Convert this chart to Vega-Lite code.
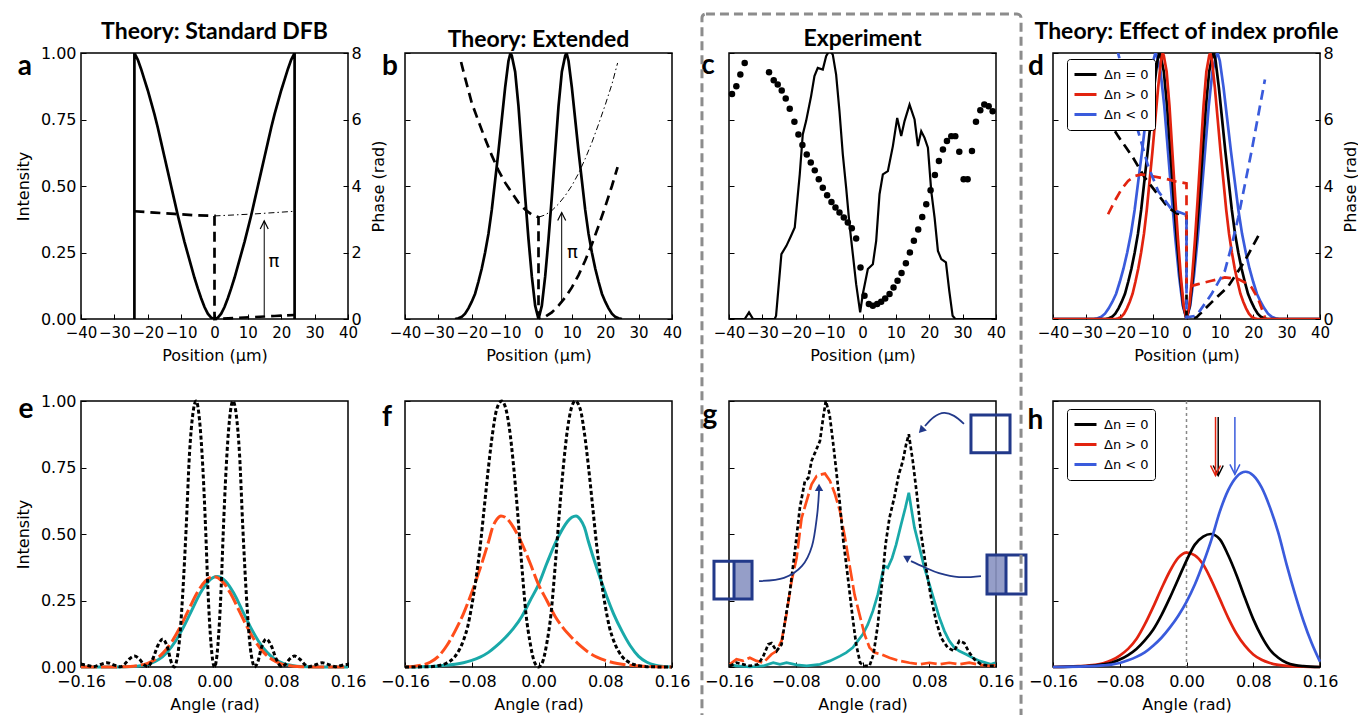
{
"$schema":"https://vega.github.io/schema/vega-lite/v6.json",
"background":"white",
"padding":{"left":14,"top":11,"right":0,"bottom":0},
"config":{
 "view":{"stroke":"black","strokeWidth":1.5},
 "font":"DejaVu Sans",
 "axis":{"domain":false,"grid":false,"tickSize":-5,"tickColor":"black","tickWidth":1,"labelFont":"DejaVu Sans","labelFontSize":16,"labelColor":"black","titleFont":"DejaVu Sans","titleFontSize":16,"titleFontWeight":"normal","titleColor":"black","labelOverlap":false,"labelFlush":false,"labelBound":false},
 "axisLeft":{"labelPadding":10,"titlePadding":9},
 "axisRight":{"labelPadding":8,"titlePadding":9,"titleAngle":270,"titleBaseline":"top"},
 "axisBottom":{"labelPadding":11,"titlePadding":7},
 "title":{"font":"Lato","fontSize":23,"fontWeight":"bold","color":"black","frame":"group","anchor":"middle","baseline":"alphabetic","offset":1}
},
"datasets":{
 "a":[
  {"s":"I","x":-24,"y":0},{"s":"I","x":-24,"y":1},{"s":"I","x":-23,"y":0.975},{"s":"I","x":-22,"y":0.94},{"s":"I","x":-21,"y":0.9},{"s":"I","x":-20,"y":0.86},{"s":"I","x":-19,"y":0.815},{"s":"I","x":-18,"y":0.77},{"s":"I","x":-17,"y":0.72},{"s":"I","x":-16,"y":0.665},{"s":"I","x":-15,"y":0.61},{"s":"I","x":-14,"y":0.555},{"s":"I","x":-13,"y":0.5},{"s":"I","x":-12,"y":0.445},{"s":"I","x":-11,"y":0.39},{"s":"I","x":-10,"y":0.34},{"s":"I","x":-9,"y":0.29},{"s":"I","x":-8,"y":0.245},{"s":"I","x":-7,"y":0.2},{"s":"I","x":-6,"y":0.155},{"s":"I","x":-5,"y":0.115},{"s":"I","x":-4,"y":0.078},{"s":"I","x":-3,"y":0.045},{"s":"I","x":-2,"y":0.02},{"s":"I","x":-1,"y":0.005},{"s":"I","x":0,"y":0},{"s":"I","x":1,"y":0.005},{"s":"I","x":2,"y":0.02},{"s":"I","x":3,"y":0.045},{"s":"I","x":4,"y":0.078},{"s":"I","x":5,"y":0.115},{"s":"I","x":6,"y":0.155},{"s":"I","x":7,"y":0.2},{"s":"I","x":8,"y":0.245},{"s":"I","x":9,"y":0.29},{"s":"I","x":10,"y":0.34},{"s":"I","x":11,"y":0.39},{"s":"I","x":12,"y":0.445},{"s":"I","x":13,"y":0.5},{"s":"I","x":14,"y":0.555},{"s":"I","x":15,"y":0.61},{"s":"I","x":16,"y":0.665},{"s":"I","x":17,"y":0.72},{"s":"I","x":18,"y":0.77},{"s":"I","x":19,"y":0.815},{"s":"I","x":20,"y":0.86},{"s":"I","x":21,"y":0.9},{"s":"I","x":22,"y":0.94},{"s":"I","x":23,"y":0.975},{"s":"I","x":24,"y":1},{"s":"I","x":24,"y":0},
  {"s":"P","x":-24,"y":3.24},{"s":"P","x":-18,"y":3.2},{"s":"P","x":-12,"y":3.16},{"s":"P","x":-6,"y":3.12},{"s":"P","x":0,"y":3.1},{"s":"P","x":0,"y":0},{"s":"P","x":6,"y":0.03},{"s":"P","x":12,"y":0.06},{"s":"P","x":18,"y":0.09},{"s":"P","x":24,"y":0.12},
  {"s":"Q","x":0,"y":3.1},{"s":"Q","x":12,"y":3.16},{"s":"Q","x":24,"y":3.24}
 ],
 "b":[
  {"s":"I","x":-25,"y":0},{"s":"I","x":-24,"y":0.003},{"s":"I","x":-23,"y":0.008},{"s":"I","x":-22,"y":0.02},{"s":"I","x":-21,"y":0.04},{"s":"I","x":-20,"y":0.065},{"s":"I","x":-19,"y":0.095},{"s":"I","x":-18,"y":0.14},{"s":"I","x":-17,"y":0.19},{"s":"I","x":-16,"y":0.25},{"s":"I","x":-15,"y":0.32},{"s":"I","x":-14,"y":0.41},{"s":"I","x":-13,"y":0.52},{"s":"I","x":-12,"y":0.63},{"s":"I","x":-11,"y":0.75},{"s":"I","x":-10,"y":0.87},{"s":"I","x":-9,"y":0.97},{"s":"I","x":-8.4,"y":1},{"s":"I","x":-8,"y":0.99},{"s":"I","x":-7,"y":0.93},{"s":"I","x":-6,"y":0.8},{"s":"I","x":-5,"y":0.63},{"s":"I","x":-4,"y":0.46},{"s":"I","x":-3,"y":0.3},{"s":"I","x":-2,"y":0.16},{"s":"I","x":-1,"y":0.05},{"s":"I","x":0,"y":0},{"s":"I","x":1,"y":0.05},{"s":"I","x":2,"y":0.16},{"s":"I","x":3,"y":0.3},{"s":"I","x":4,"y":0.46},{"s":"I","x":5,"y":0.63},{"s":"I","x":6,"y":0.8},{"s":"I","x":7,"y":0.93},{"s":"I","x":8,"y":0.99},{"s":"I","x":8.4,"y":1},{"s":"I","x":9,"y":0.97},{"s":"I","x":10,"y":0.87},{"s":"I","x":11,"y":0.75},{"s":"I","x":12,"y":0.63},{"s":"I","x":13,"y":0.52},{"s":"I","x":14,"y":0.41},{"s":"I","x":15,"y":0.32},{"s":"I","x":16,"y":0.25},{"s":"I","x":17,"y":0.19},{"s":"I","x":18,"y":0.14},{"s":"I","x":19,"y":0.095},{"s":"I","x":20,"y":0.065},{"s":"I","x":21,"y":0.04},{"s":"I","x":22,"y":0.02},{"s":"I","x":23,"y":0.008},{"s":"I","x":24,"y":0.003},{"s":"I","x":25,"y":0},
  {"s":"P","x":-23.2,"y":7.73},{"s":"P","x":-22,"y":7.25},{"s":"P","x":-20,"y":6.5},{"s":"P","x":-18,"y":5.95},{"s":"P","x":-16,"y":5.42},{"s":"P","x":-14,"y":4.92},{"s":"P","x":-12,"y":4.47},{"s":"P","x":-10,"y":4.1},{"s":"P","x":-8,"y":3.8},{"s":"P","x":-6,"y":3.5},{"s":"P","x":-4,"y":3.29},{"s":"P","x":-2,"y":3.14},{"s":"P","x":0,"y":3.06},{"s":"P","x":0,"y":0},{"s":"P","x":2,"y":0.07},{"s":"P","x":4,"y":0.2},{"s":"P","x":6,"y":0.4},{"s":"P","x":8,"y":0.65},{"s":"P","x":10,"y":0.95},{"s":"P","x":12,"y":1.32},{"s":"P","x":14,"y":1.76},{"s":"P","x":16,"y":2.25},{"s":"P","x":18,"y":2.8},{"s":"P","x":20,"y":3.38},{"s":"P","x":22,"y":4.0},{"s":"P","x":23.7,"y":4.57},
  {"s":"Q","x":0,"y":3.06},{"s":"Q","x":2,"y":3.13},{"s":"Q","x":4,"y":3.26},{"s":"Q","x":6,"y":3.46},{"s":"Q","x":8,"y":3.71},{"s":"Q","x":10,"y":4.01},{"s":"Q","x":12,"y":4.38},{"s":"Q","x":14,"y":4.82},{"s":"Q","x":16,"y":5.31},{"s":"Q","x":18,"y":5.86},{"s":"Q","x":20,"y":6.44},{"s":"Q","x":22,"y":7.06},{"s":"Q","x":23.7,"y":7.7}
 ],
 "c_int":[
  {"x":-40,"y":0},{"x":-35.3,"y":0},{"x":-34,"y":0.025},{"x":-32.8,"y":0},{"x":-26.3,"y":0},{"x":-25.9,"y":0.012},{"x":-24.3,"y":0.244},{"x":-22.8,"y":0.275},{"x":-21.5,"y":0.31},{"x":-20.3,"y":0.344},{"x":-18.8,"y":0.544},{"x":-17.9,"y":0.694},{"x":-16.9,"y":0.744},{"x":-15.4,"y":0.838},{"x":-14.4,"y":0.913},{"x":-13.4,"y":0.944},{"x":-11.9,"y":0.938},{"x":-10.9,"y":0.988},{"x":-9.9,"y":1.01},{"x":-8.9,"y":0.994},{"x":-7.9,"y":0.919},{"x":-6.9,"y":0.781},{"x":-5.9,"y":0.619},{"x":-4.9,"y":0.494},{"x":-3.9,"y":0.356},{"x":-2.9,"y":0.244},{"x":-1.9,"y":0.131},{"x":-0.7,"y":0.025},{"x":0.1,"y":0.094},{"x":1.6,"y":0.188},{"x":3.1,"y":0.206},{"x":4.1,"y":0.294},{"x":5.1,"y":0.469},{"x":6.1,"y":0.544},{"x":7.6,"y":0.556},{"x":9.1,"y":0.65},{"x":10.4,"y":0.756},{"x":11.6,"y":0.688},{"x":12.6,"y":0.744},{"x":14.1,"y":0.806},{"x":15.6,"y":0.75},{"x":16.6,"y":0.65},{"x":17.6,"y":0.706},{"x":18.6,"y":0.681},{"x":19.6,"y":0.644},{"x":20.6,"y":0.481},{"x":21.6,"y":0.381},{"x":22.6,"y":0.256},{"x":23.6,"y":0.225},{"x":25,"y":0.213},{"x":26,"y":0.106},{"x":27,"y":0.012},{"x":27.8,"y":0},{"x":40,"y":0}
 ],
 "c_dot":[
  {"x":-39.1,"y":6.77},{"x":-37.8,"y":7.0},{"x":-36.6,"y":7.35},{"x":-35.3,"y":7.7},{"x":-28.0,"y":7.42},{"x":-26.6,"y":7.18},{"x":-25.4,"y":7.05},{"x":-24.2,"y":6.87},{"x":-23.0,"y":6.63},{"x":-21.8,"y":6.32},{"x":-20.4,"y":5.93},{"x":-19.2,"y":5.55},{"x":-18.0,"y":5.23},{"x":-16.7,"y":4.95},{"x":-15.5,"y":4.71},{"x":-14.3,"y":4.47},{"x":-13.1,"y":4.2},{"x":-11.9,"y":3.95},{"x":-10.6,"y":3.72},{"x":-9.3,"y":3.52},{"x":-8.1,"y":3.35},{"x":-6.9,"y":3.2},{"x":-5.6,"y":3.05},{"x":-4.4,"y":2.9},{"x":-3.2,"y":2.73},{"x":-1.9,"y":2.42},{"x":-0.6,"y":1.55},{"x":0.6,"y":0.7},{"x":1.9,"y":0.45},{"x":3.1,"y":0.4},{"x":4.4,"y":0.45},{"x":5.6,"y":0.52},{"x":6.8,"y":0.62},{"x":8.1,"y":0.75},{"x":9.3,"y":0.95},{"x":10.5,"y":1.15},{"x":11.7,"y":1.38},{"x":13.0,"y":1.68},{"x":14.2,"y":2.0},{"x":15.4,"y":2.35},{"x":16.7,"y":2.69},{"x":17.9,"y":3.07},{"x":19.1,"y":3.45},{"x":20.4,"y":3.87},{"x":21.7,"y":4.33},{"x":22.9,"y":4.75},{"x":24.1,"y":5.1},{"x":25.3,"y":5.35},{"x":26.6,"y":5.5},{"x":27.8,"y":5.5},{"x":29.0,"y":5.03},{"x":30.3,"y":4.2},{"x":31.5,"y":4.2},{"x":32.8,"y":5.05},{"x":34.0,"y":5.93},{"x":35.3,"y":6.28},{"x":36.5,"y":6.45},{"x":37.8,"y":6.4},{"x":39.0,"y":6.25}
 ],
 "d":[
  {"s":"I","n":"Δn < 0","x":-40,"y":0},{"s":"I","n":"Δn < 0","x":-27.75,"y":0},{"s":"I","n":"Δn < 0","x":-26.64,"y":0.003},{"s":"I","n":"Δn < 0","x":-25.53,"y":0.008},{"s":"I","n":"Δn < 0","x":-24.42,"y":0.02},{"s":"I","n":"Δn < 0","x":-23.31,"y":0.04},{"s":"I","n":"Δn < 0","x":-22.2,"y":0.065},{"s":"I","n":"Δn < 0","x":-21.09,"y":0.095},{"s":"I","n":"Δn < 0","x":-19.98,"y":0.14},{"s":"I","n":"Δn < 0","x":-18.87,"y":0.19},{"s":"I","n":"Δn < 0","x":-17.76,"y":0.25},{"s":"I","n":"Δn < 0","x":-16.65,"y":0.32},{"s":"I","n":"Δn < 0","x":-15.54,"y":0.41},{"s":"I","n":"Δn < 0","x":-14.43,"y":0.52},{"s":"I","n":"Δn < 0","x":-13.32,"y":0.63},{"s":"I","n":"Δn < 0","x":-12.21,"y":0.75},{"s":"I","n":"Δn < 0","x":-11.1,"y":0.87},{"s":"I","n":"Δn < 0","x":-9.99,"y":0.97},{"s":"I","n":"Δn < 0","x":-9.32,"y":1},{"s":"I","n":"Δn < 0","x":-8.88,"y":0.99},{"s":"I","n":"Δn < 0","x":-7.77,"y":0.93},{"s":"I","n":"Δn < 0","x":-6.66,"y":0.8},{"s":"I","n":"Δn < 0","x":-5.55,"y":0.63},{"s":"I","n":"Δn < 0","x":-4.44,"y":0.46},{"s":"I","n":"Δn < 0","x":-3.33,"y":0.3},{"s":"I","n":"Δn < 0","x":-2.22,"y":0.16},{"s":"I","n":"Δn < 0","x":-1.11,"y":0.05},{"s":"I","n":"Δn < 0","x":0,"y":0},{"s":"I","n":"Δn < 0","x":1.11,"y":0.05},{"s":"I","n":"Δn < 0","x":2.22,"y":0.16},{"s":"I","n":"Δn < 0","x":3.33,"y":0.3},{"s":"I","n":"Δn < 0","x":4.44,"y":0.46},{"s":"I","n":"Δn < 0","x":5.55,"y":0.63},{"s":"I","n":"Δn < 0","x":6.66,"y":0.8},{"s":"I","n":"Δn < 0","x":7.77,"y":0.93},{"s":"I","n":"Δn < 0","x":8.88,"y":0.99},{"s":"I","n":"Δn < 0","x":9.32,"y":1},{"s":"I","n":"Δn < 0","x":9.99,"y":0.97},{"s":"I","n":"Δn < 0","x":11.1,"y":0.87},{"s":"I","n":"Δn < 0","x":12.21,"y":0.75},{"s":"I","n":"Δn < 0","x":13.32,"y":0.63},{"s":"I","n":"Δn < 0","x":14.43,"y":0.52},{"s":"I","n":"Δn < 0","x":15.54,"y":0.41},{"s":"I","n":"Δn < 0","x":16.65,"y":0.32},{"s":"I","n":"Δn < 0","x":17.76,"y":0.25},{"s":"I","n":"Δn < 0","x":18.87,"y":0.19},{"s":"I","n":"Δn < 0","x":19.98,"y":0.14},{"s":"I","n":"Δn < 0","x":21.09,"y":0.095},{"s":"I","n":"Δn < 0","x":22.2,"y":0.065},{"s":"I","n":"Δn < 0","x":23.31,"y":0.04},{"s":"I","n":"Δn < 0","x":24.42,"y":0.02},{"s":"I","n":"Δn < 0","x":25.53,"y":0.008},{"s":"I","n":"Δn < 0","x":26.64,"y":0.003},{"s":"I","n":"Δn < 0","x":27.75,"y":0},{"s":"I","n":"Δn < 0","x":40,"y":0},
  {"s":"I","n":"Δn = 0","x":-40,"y":0},{"s":"I","n":"Δn = 0","x":-24.25,"y":0},{"s":"I","n":"Δn = 0","x":-23.28,"y":0.003},{"s":"I","n":"Δn = 0","x":-22.31,"y":0.008},{"s":"I","n":"Δn = 0","x":-21.34,"y":0.02},{"s":"I","n":"Δn = 0","x":-20.37,"y":0.04},{"s":"I","n":"Δn = 0","x":-19.4,"y":0.065},{"s":"I","n":"Δn = 0","x":-18.43,"y":0.095},{"s":"I","n":"Δn = 0","x":-17.46,"y":0.14},{"s":"I","n":"Δn = 0","x":-16.49,"y":0.19},{"s":"I","n":"Δn = 0","x":-15.52,"y":0.25},{"s":"I","n":"Δn = 0","x":-14.55,"y":0.32},{"s":"I","n":"Δn = 0","x":-13.58,"y":0.41},{"s":"I","n":"Δn = 0","x":-12.61,"y":0.52},{"s":"I","n":"Δn = 0","x":-11.64,"y":0.63},{"s":"I","n":"Δn = 0","x":-10.67,"y":0.75},{"s":"I","n":"Δn = 0","x":-9.7,"y":0.87},{"s":"I","n":"Δn = 0","x":-8.73,"y":0.97},{"s":"I","n":"Δn = 0","x":-8.15,"y":1},{"s":"I","n":"Δn = 0","x":-7.76,"y":0.99},{"s":"I","n":"Δn = 0","x":-6.79,"y":0.93},{"s":"I","n":"Δn = 0","x":-5.82,"y":0.8},{"s":"I","n":"Δn = 0","x":-4.85,"y":0.63},{"s":"I","n":"Δn = 0","x":-3.88,"y":0.46},{"s":"I","n":"Δn = 0","x":-2.91,"y":0.3},{"s":"I","n":"Δn = 0","x":-1.94,"y":0.16},{"s":"I","n":"Δn = 0","x":-0.97,"y":0.05},{"s":"I","n":"Δn = 0","x":0,"y":0},{"s":"I","n":"Δn = 0","x":0.97,"y":0.05},{"s":"I","n":"Δn = 0","x":1.94,"y":0.16},{"s":"I","n":"Δn = 0","x":2.91,"y":0.3},{"s":"I","n":"Δn = 0","x":3.88,"y":0.46},{"s":"I","n":"Δn = 0","x":4.85,"y":0.63},{"s":"I","n":"Δn = 0","x":5.82,"y":0.8},{"s":"I","n":"Δn = 0","x":6.79,"y":0.93},{"s":"I","n":"Δn = 0","x":7.76,"y":0.99},{"s":"I","n":"Δn = 0","x":8.15,"y":1},{"s":"I","n":"Δn = 0","x":8.73,"y":0.97},{"s":"I","n":"Δn = 0","x":9.7,"y":0.87},{"s":"I","n":"Δn = 0","x":10.67,"y":0.75},{"s":"I","n":"Δn = 0","x":11.64,"y":0.63},{"s":"I","n":"Δn = 0","x":12.61,"y":0.52},{"s":"I","n":"Δn = 0","x":13.58,"y":0.41},{"s":"I","n":"Δn = 0","x":14.55,"y":0.32},{"s":"I","n":"Δn = 0","x":15.52,"y":0.25},{"s":"I","n":"Δn = 0","x":16.49,"y":0.19},{"s":"I","n":"Δn = 0","x":17.46,"y":0.14},{"s":"I","n":"Δn = 0","x":18.43,"y":0.095},{"s":"I","n":"Δn = 0","x":19.4,"y":0.065},{"s":"I","n":"Δn = 0","x":20.37,"y":0.04},{"s":"I","n":"Δn = 0","x":21.34,"y":0.02},{"s":"I","n":"Δn = 0","x":22.31,"y":0.008},{"s":"I","n":"Δn = 0","x":23.28,"y":0.003},{"s":"I","n":"Δn = 0","x":24.25,"y":0},{"s":"I","n":"Δn = 0","x":40,"y":0},
  {"s":"I","n":"Δn > 0","x":-40,"y":0},{"s":"I","n":"Δn > 0","x":-21.25,"y":0},{"s":"I","n":"Δn > 0","x":-20.4,"y":0.003},{"s":"I","n":"Δn > 0","x":-19.55,"y":0.008},{"s":"I","n":"Δn > 0","x":-18.7,"y":0.02},{"s":"I","n":"Δn > 0","x":-17.85,"y":0.04},{"s":"I","n":"Δn > 0","x":-17,"y":0.065},{"s":"I","n":"Δn > 0","x":-16.15,"y":0.095},{"s":"I","n":"Δn > 0","x":-15.3,"y":0.14},{"s":"I","n":"Δn > 0","x":-14.45,"y":0.19},{"s":"I","n":"Δn > 0","x":-13.6,"y":0.25},{"s":"I","n":"Δn > 0","x":-12.75,"y":0.32},{"s":"I","n":"Δn > 0","x":-11.9,"y":0.41},{"s":"I","n":"Δn > 0","x":-11.05,"y":0.52},{"s":"I","n":"Δn > 0","x":-10.2,"y":0.63},{"s":"I","n":"Δn > 0","x":-9.35,"y":0.75},{"s":"I","n":"Δn > 0","x":-8.5,"y":0.87},{"s":"I","n":"Δn > 0","x":-7.65,"y":0.97},{"s":"I","n":"Δn > 0","x":-7.14,"y":1},{"s":"I","n":"Δn > 0","x":-6.8,"y":0.99},{"s":"I","n":"Δn > 0","x":-5.95,"y":0.93},{"s":"I","n":"Δn > 0","x":-5.1,"y":0.8},{"s":"I","n":"Δn > 0","x":-4.25,"y":0.63},{"s":"I","n":"Δn > 0","x":-3.4,"y":0.46},{"s":"I","n":"Δn > 0","x":-2.55,"y":0.3},{"s":"I","n":"Δn > 0","x":-1.7,"y":0.16},{"s":"I","n":"Δn > 0","x":-0.85,"y":0.05},{"s":"I","n":"Δn > 0","x":0,"y":0},{"s":"I","n":"Δn > 0","x":0.85,"y":0.05},{"s":"I","n":"Δn > 0","x":1.7,"y":0.16},{"s":"I","n":"Δn > 0","x":2.55,"y":0.3},{"s":"I","n":"Δn > 0","x":3.4,"y":0.46},{"s":"I","n":"Δn > 0","x":4.25,"y":0.63},{"s":"I","n":"Δn > 0","x":5.1,"y":0.8},{"s":"I","n":"Δn > 0","x":5.95,"y":0.93},{"s":"I","n":"Δn > 0","x":6.8,"y":0.99},{"s":"I","n":"Δn > 0","x":7.14,"y":1},{"s":"I","n":"Δn > 0","x":7.65,"y":0.97},{"s":"I","n":"Δn > 0","x":8.5,"y":0.87},{"s":"I","n":"Δn > 0","x":9.35,"y":0.75},{"s":"I","n":"Δn > 0","x":10.2,"y":0.63},{"s":"I","n":"Δn > 0","x":11.05,"y":0.52},{"s":"I","n":"Δn > 0","x":11.9,"y":0.41},{"s":"I","n":"Δn > 0","x":12.75,"y":0.32},{"s":"I","n":"Δn > 0","x":13.6,"y":0.25},{"s":"I","n":"Δn > 0","x":14.45,"y":0.19},{"s":"I","n":"Δn > 0","x":15.3,"y":0.14},{"s":"I","n":"Δn > 0","x":16.15,"y":0.095},{"s":"I","n":"Δn > 0","x":17,"y":0.065},{"s":"I","n":"Δn > 0","x":17.85,"y":0.04},{"s":"I","n":"Δn > 0","x":18.7,"y":0.02},{"s":"I","n":"Δn > 0","x":19.55,"y":0.008},{"s":"I","n":"Δn > 0","x":20.4,"y":0.003},{"s":"I","n":"Δn > 0","x":21.25,"y":0},{"s":"I","n":"Δn > 0","x":40,"y":0},
  {"s":"P","n":"Δn = 0","x":-24,"y":6.05},{"s":"P","n":"Δn = 0","x":-20.5,"y":5.5},{"s":"P","n":"Δn = 0","x":-16,"y":4.85},{"s":"P","n":"Δn = 0","x":-12.5,"y":4.25},{"s":"P","n":"Δn = 0","x":-9,"y":3.8},{"s":"P","n":"Δn = 0","x":-5.5,"y":3.35},{"s":"P","n":"Δn = 0","x":-3,"y":3.18},{"s":"P","n":"Δn = 0","x":0,"y":3.1},{"s":"P","n":"Δn = 0","x":0,"y":0},{"s":"P","n":"Δn = 0","x":3,"y":0.05},{"s":"P","n":"Δn = 0","x":7.5,"y":0.5},{"s":"P","n":"Δn = 0","x":12.5,"y":0.98},{"s":"P","n":"Δn = 0","x":17.5,"y":1.75},{"s":"P","n":"Δn = 0","x":22.3,"y":2.65},
  {"s":"P","n":"Δn > 0","x":-23.5,"y":3.15},{"s":"P","n":"Δn > 0","x":-21.5,"y":3.55},{"s":"P","n":"Δn > 0","x":-19.5,"y":3.9},{"s":"P","n":"Δn > 0","x":-17.5,"y":4.15},{"s":"P","n":"Δn > 0","x":-15.5,"y":4.3},{"s":"P","n":"Δn > 0","x":-13.5,"y":4.35},{"s":"P","n":"Δn > 0","x":-10.5,"y":4.3},{"s":"P","n":"Δn > 0","x":-8,"y":4.25},{"s":"P","n":"Δn > 0","x":-5.5,"y":4.2},{"s":"P","n":"Δn > 0","x":-3,"y":4.13},{"s":"P","n":"Δn > 0","x":0,"y":4.08},{"s":"P","n":"Δn > 0","x":0,"y":0.95},{"s":"P","n":"Δn > 0","x":3.5,"y":1.05},{"s":"P","n":"Δn > 0","x":7.5,"y":1.15},{"s":"P","n":"Δn > 0","x":11.5,"y":1.25},{"s":"P","n":"Δn > 0","x":15.5,"y":1.2},{"s":"P","n":"Δn > 0","x":17.5,"y":1.1},{"s":"P","n":"Δn > 0","x":19.5,"y":0.95},{"s":"P","n":"Δn > 0","x":21.5,"y":0.6},{"s":"P","n":"Δn > 0","x":23.5,"y":0.05},
  {"s":"P","n":"Δn < 0","x":-22,"y":8.6},{"s":"P","n":"Δn < 0","x":-20.5,"y":8.0},{"s":"P","n":"Δn < 0","x":-17.5,"y":6.8},{"s":"P","n":"Δn < 0","x":-14.5,"y":5.65},{"s":"P","n":"Δn < 0","x":-11.5,"y":4.6},{"s":"P","n":"Δn < 0","x":-8.5,"y":3.85},{"s":"P","n":"Δn < 0","x":-4.5,"y":3.3},{"s":"P","n":"Δn < 0","x":-0.5,"y":3.15},{"s":"P","n":"Δn < 0","x":0,"y":3.14},{"s":"P","n":"Δn < 0","x":0,"y":0.05},{"s":"P","n":"Δn < 0","x":3,"y":0.1},{"s":"P","n":"Δn < 0","x":7.5,"y":0.75},{"s":"P","n":"Δn < 0","x":11.5,"y":1.45},{"s":"P","n":"Δn < 0","x":13.5,"y":2.2},{"s":"P","n":"Δn < 0","x":15.5,"y":3.05},{"s":"P","n":"Δn < 0","x":19.5,"y":5.05},{"s":"P","n":"Δn < 0","x":23.5,"y":7.2}
 ],
 "e":[
  {"s":"K","x":-0.16,"y":0.01},{"s":"K","x":-0.152,"y":0.006},{"s":"K","x":-0.145,"y":0.001},{"s":"K","x":-0.138,"y":0.008},{"s":"K","x":-0.129,"y":0.016},{"s":"K","x":-0.12,"y":0.007},{"s":"K","x":-0.113,"y":0.001},{"s":"K","x":-0.108,"y":0.01},{"s":"K","x":-0.102,"y":0.03},{"s":"K","x":-0.096,"y":0.041},{"s":"K","x":-0.09,"y":0.03},{"s":"K","x":-0.085,"y":0.01},{"s":"K","x":-0.08,"y":0.002},{"s":"K","x":-0.074,"y":0.03},{"s":"K","x":-0.068,"y":0.08},{"s":"K","x":-0.062,"y":0.105},{"s":"K","x":-0.056,"y":0.07},{"s":"K","x":-0.052,"y":0.02},{"s":"K","x":-0.048,"y":0},{"s":"K","x":-0.046,"y":0.015},{"s":"K","x":-0.042,"y":0.1},{"s":"K","x":-0.038,"y":0.28},{"s":"K","x":-0.034,"y":0.52},{"s":"K","x":-0.03,"y":0.8},{"s":"K","x":-0.026,"y":0.95},{"s":"K","x":-0.022,"y":1},{"s":"K","x":-0.018,"y":0.93},{"s":"K","x":-0.014,"y":0.75},{"s":"K","x":-0.0104,"y":0.5},{"s":"K","x":-0.008,"y":0.3},{"s":"K","x":-0.004,"y":0.08},{"s":"K","x":0,"y":0},{"s":"K","x":0.004,"y":0.08},{"s":"K","x":0.008,"y":0.3},{"s":"K","x":0.0104,"y":0.5},{"s":"K","x":0.014,"y":0.75},{"s":"K","x":0.018,"y":0.93},{"s":"K","x":0.022,"y":1},{"s":"K","x":0.026,"y":0.95},{"s":"K","x":0.03,"y":0.8},{"s":"K","x":0.034,"y":0.52},{"s":"K","x":0.038,"y":0.28},{"s":"K","x":0.042,"y":0.1},{"s":"K","x":0.046,"y":0.015},{"s":"K","x":0.048,"y":0},{"s":"K","x":0.052,"y":0.02},{"s":"K","x":0.056,"y":0.07},{"s":"K","x":0.062,"y":0.105},{"s":"K","x":0.068,"y":0.08},{"s":"K","x":0.074,"y":0.03},{"s":"K","x":0.08,"y":0.002},{"s":"K","x":0.085,"y":0.01},{"s":"K","x":0.09,"y":0.03},{"s":"K","x":0.096,"y":0.041},{"s":"K","x":0.102,"y":0.03},{"s":"K","x":0.108,"y":0.01},{"s":"K","x":0.113,"y":0.001},{"s":"K","x":0.12,"y":0.007},{"s":"K","x":0.129,"y":0.016},{"s":"K","x":0.138,"y":0.008},{"s":"K","x":0.145,"y":0.001},{"s":"K","x":0.152,"y":0.006},{"s":"K","x":0.16,"y":0.01},
  {"s":"O","x":-0.16,"y":0},{"s":"O","x":-0.121,"y":0.0002},{"s":"O","x":-0.101,"y":0.002},{"s":"O","x":-0.091,"y":0.006},{"s":"O","x":-0.081,"y":0.013},{"s":"O","x":-0.071,"y":0.028},{"s":"O","x":-0.061,"y":0.055},{"s":"O","x":-0.051,"y":0.096},{"s":"O","x":-0.041,"y":0.151},{"s":"O","x":-0.031,"y":0.215},{"s":"O","x":-0.021,"y":0.278},{"s":"O","x":-0.011,"y":0.323},{"s":"O","x":-0.001,"y":0.34},{"s":"O","x":0.009,"y":0.323},{"s":"O","x":0.019,"y":0.278},{"s":"O","x":0.029,"y":0.215},{"s":"O","x":0.039,"y":0.151},{"s":"O","x":0.049,"y":0.096},{"s":"O","x":0.059,"y":0.055},{"s":"O","x":0.069,"y":0.028},{"s":"O","x":0.079,"y":0.013},{"s":"O","x":0.089,"y":0.006},{"s":"O","x":0.099,"y":0.002},{"s":"O","x":0.119,"y":0.0002},{"s":"O","x":0.16,"y":0},
  {"s":"T","x":-0.16,"y":0},{"s":"T","x":-0.117,"y":0.0002},{"s":"T","x":-0.097,"y":0.002},{"s":"T","x":-0.087,"y":0.006},{"s":"T","x":-0.077,"y":0.013},{"s":"T","x":-0.067,"y":0.028},{"s":"T","x":-0.057,"y":0.055},{"s":"T","x":-0.047,"y":0.096},{"s":"T","x":-0.037,"y":0.151},{"s":"T","x":-0.027,"y":0.215},{"s":"T","x":-0.017,"y":0.278},{"s":"T","x":-0.007,"y":0.323},{"s":"T","x":0.003,"y":0.34},{"s":"T","x":0.013,"y":0.323},{"s":"T","x":0.023,"y":0.278},{"s":"T","x":0.033,"y":0.215},{"s":"T","x":0.043,"y":0.151},{"s":"T","x":0.053,"y":0.096},{"s":"T","x":0.063,"y":0.055},{"s":"T","x":0.073,"y":0.028},{"s":"T","x":0.083,"y":0.013},{"s":"T","x":0.093,"y":0.006},{"s":"T","x":0.103,"y":0.002},{"s":"T","x":0.123,"y":0.0002},{"s":"T","x":0.16,"y":0}
 ],
 "f":[
  {"s":"K","x":-0.16,"y":0},{"s":"K","x":-0.13,"y":0.001},{"s":"K","x":-0.12,"y":0.005},{"s":"K","x":-0.11,"y":0.015},{"s":"K","x":-0.1,"y":0.04},{"s":"K","x":-0.09,"y":0.1},{"s":"K","x":-0.085,"y":0.15},{"s":"K","x":-0.08,"y":0.23},{"s":"K","x":-0.075,"y":0.33},{"s":"K","x":-0.07,"y":0.45},{"s":"K","x":-0.065,"y":0.6},{"s":"K","x":-0.06,"y":0.75},{"s":"K","x":-0.055,"y":0.88},{"s":"K","x":-0.05,"y":0.97},{"s":"K","x":-0.044,"y":1},{"s":"K","x":-0.04,"y":0.98},{"s":"K","x":-0.035,"y":0.9},{"s":"K","x":-0.03,"y":0.76},{"s":"K","x":-0.025,"y":0.58},{"s":"K","x":-0.02,"y":0.38},{"s":"K","x":-0.015,"y":0.2},{"s":"K","x":-0.01,"y":0.09},{"s":"K","x":-0.005,"y":0.02},{"s":"K","x":0,"y":0},{"s":"K","x":0.005,"y":0.02},{"s":"K","x":0.01,"y":0.09},{"s":"K","x":0.015,"y":0.2},{"s":"K","x":0.02,"y":0.38},{"s":"K","x":0.025,"y":0.58},{"s":"K","x":0.03,"y":0.76},{"s":"K","x":0.035,"y":0.9},{"s":"K","x":0.04,"y":0.98},{"s":"K","x":0.044,"y":1},{"s":"K","x":0.05,"y":0.97},{"s":"K","x":0.055,"y":0.88},{"s":"K","x":0.06,"y":0.75},{"s":"K","x":0.065,"y":0.6},{"s":"K","x":0.07,"y":0.45},{"s":"K","x":0.075,"y":0.33},{"s":"K","x":0.08,"y":0.23},{"s":"K","x":0.085,"y":0.15},{"s":"K","x":0.09,"y":0.1},{"s":"K","x":0.1,"y":0.04},{"s":"K","x":0.11,"y":0.015},{"s":"K","x":0.12,"y":0.005},{"s":"K","x":0.13,"y":0.001},{"s":"K","x":0.16,"y":0},
  {"s":"O","x":-0.16,"y":0},{"s":"O","x":-0.15,"y":0.002},{"s":"O","x":-0.14,"y":0.007},{"s":"O","x":-0.13,"y":0.018},{"s":"O","x":-0.12,"y":0.04},{"s":"O","x":-0.11,"y":0.08},{"s":"O","x":-0.1,"y":0.135},{"s":"O","x":-0.09,"y":0.2},{"s":"O","x":-0.08,"y":0.28},{"s":"O","x":-0.07,"y":0.37},{"s":"O","x":-0.06,"y":0.47},{"s":"O","x":-0.055,"y":0.525},{"s":"O","x":-0.05,"y":0.555},{"s":"O","x":-0.045,"y":0.568},{"s":"O","x":-0.04,"y":0.563},{"s":"O","x":-0.035,"y":0.548},{"s":"O","x":-0.03,"y":0.525},{"s":"O","x":-0.02,"y":0.465},{"s":"O","x":-0.01,"y":0.39},{"s":"O","x":0,"y":0.31},{"s":"O","x":0.01,"y":0.25},{"s":"O","x":0.02,"y":0.19},{"s":"O","x":0.03,"y":0.145},{"s":"O","x":0.04,"y":0.11},{"s":"O","x":0.05,"y":0.08},{"s":"O","x":0.06,"y":0.055},{"s":"O","x":0.07,"y":0.037},{"s":"O","x":0.08,"y":0.025},{"s":"O","x":0.09,"y":0.016},{"s":"O","x":0.1,"y":0.01},{"s":"O","x":0.12,"y":0.004},{"s":"O","x":0.14,"y":0.001},{"s":"O","x":0.16,"y":0},
  {"s":"T","x":-0.16,"y":0},{"s":"T","x":-0.14,"y":0.001},{"s":"T","x":-0.12,"y":0.004},{"s":"T","x":-0.1,"y":0.01},{"s":"T","x":-0.09,"y":0.016},{"s":"T","x":-0.08,"y":0.025},{"s":"T","x":-0.07,"y":0.037},{"s":"T","x":-0.06,"y":0.055},{"s":"T","x":-0.05,"y":0.08},{"s":"T","x":-0.04,"y":0.11},{"s":"T","x":-0.03,"y":0.145},{"s":"T","x":-0.02,"y":0.19},{"s":"T","x":-0.01,"y":0.25},{"s":"T","x":0,"y":0.31},{"s":"T","x":0.01,"y":0.39},{"s":"T","x":0.02,"y":0.465},{"s":"T","x":0.03,"y":0.525},{"s":"T","x":0.035,"y":0.548},{"s":"T","x":0.04,"y":0.563},{"s":"T","x":0.045,"y":0.568},{"s":"T","x":0.05,"y":0.555},{"s":"T","x":0.055,"y":0.525},{"s":"T","x":0.06,"y":0.47},{"s":"T","x":0.07,"y":0.37},{"s":"T","x":0.08,"y":0.28},{"s":"T","x":0.09,"y":0.2},{"s":"T","x":0.1,"y":0.135},{"s":"T","x":0.11,"y":0.08},{"s":"T","x":0.12,"y":0.04},{"s":"T","x":0.13,"y":0.018},{"s":"T","x":0.14,"y":0.007},{"s":"T","x":0.15,"y":0.002},{"s":"T","x":0.16,"y":0}
 ],
 "g":[
  {"s":"K","x":-0.159,"y":0.004},{"s":"K","x":-0.151,"y":0.016},{"s":"K","x":-0.143,"y":0.01},{"s":"K","x":-0.135,"y":0.004},{"s":"K","x":-0.125,"y":0.01},{"s":"K","x":-0.119,"y":0.04},{"s":"K","x":-0.113,"y":0.085},{"s":"K","x":-0.109,"y":0.09},{"s":"K","x":-0.103,"y":0.06},{"s":"K","x":-0.097,"y":0.085},{"s":"K","x":-0.093,"y":0.17},{"s":"K","x":-0.087,"y":0.285},{"s":"K","x":-0.081,"y":0.436},{"s":"K","x":-0.075,"y":0.6},{"s":"K","x":-0.069,"y":0.7},{"s":"K","x":-0.065,"y":0.71},{"s":"K","x":-0.061,"y":0.775},{"s":"K","x":-0.057,"y":0.805},{"s":"K","x":-0.051,"y":0.85},{"s":"K","x":-0.047,"y":0.94},{"s":"K","x":-0.044,"y":1.0},{"s":"K","x":-0.0395,"y":0.95},{"s":"K","x":-0.0355,"y":0.85},{"s":"K","x":-0.0315,"y":0.74},{"s":"K","x":-0.0275,"y":0.625},{"s":"K","x":-0.023,"y":0.475},{"s":"K","x":-0.0175,"y":0.336},{"s":"K","x":-0.0124,"y":0.2},{"s":"K","x":-0.0076,"y":0.085},{"s":"K","x":-0.0028,"y":0.016},{"s":"K","x":0.0024,"y":0.004},{"s":"K","x":0.0084,"y":0.004},{"s":"K","x":0.0132,"y":0.048},{"s":"K","x":0.0184,"y":0.16},{"s":"K","x":0.0236,"y":0.323},{"s":"K","x":0.0276,"y":0.46},{"s":"K","x":0.0323,"y":0.56},{"s":"K","x":0.0383,"y":0.64},{"s":"K","x":0.0435,"y":0.724},{"s":"K","x":0.0483,"y":0.774},{"s":"K","x":0.0523,"y":0.837},{"s":"K","x":0.0555,"y":0.875},{"s":"K","x":0.0603,"y":0.774},{"s":"K","x":0.0651,"y":0.65},{"s":"K","x":0.0703,"y":0.5},{"s":"K","x":0.0762,"y":0.373},{"s":"K","x":0.0822,"y":0.26},{"s":"K","x":0.0882,"y":0.173},{"s":"K","x":0.0942,"y":0.11},{"s":"K","x":0.102,"y":0.073},{"s":"K","x":0.11,"y":0.06},{"s":"K","x":0.116,"y":0.098},{"s":"K","x":0.122,"y":0.09},{"s":"K","x":0.128,"y":0.054},{"s":"K","x":0.134,"y":0.029},{"s":"K","x":0.142,"y":0.01},{"s":"K","x":0.152,"y":0.004},{"s":"K","x":0.159,"y":0.004},
  {"s":"O","x":-0.159,"y":0.01},{"s":"O","x":-0.151,"y":0.029},{"s":"O","x":-0.143,"y":0.023},{"s":"O","x":-0.135,"y":0.035},{"s":"O","x":-0.127,"y":0.023},{"s":"O","x":-0.119,"y":0.016},{"s":"O","x":-0.109,"y":0.048},{"s":"O","x":-0.103,"y":0.06},{"s":"O","x":-0.097,"y":0.098},{"s":"O","x":-0.091,"y":0.2},{"s":"O","x":-0.085,"y":0.323},{"s":"O","x":-0.079,"y":0.41},{"s":"O","x":-0.073,"y":0.56},{"s":"O","x":-0.067,"y":0.624},{"s":"O","x":-0.061,"y":0.687},{"s":"O","x":-0.055,"y":0.718},{"s":"O","x":-0.049,"y":0.724},{"s":"O","x":-0.045,"y":0.727},{"s":"O","x":-0.039,"y":0.7},{"s":"O","x":-0.033,"y":0.65},{"s":"O","x":-0.027,"y":0.586},{"s":"O","x":-0.021,"y":0.486},{"s":"O","x":-0.015,"y":0.373},{"s":"O","x":-0.0096,"y":0.273},{"s":"O","x":-0.0036,"y":0.198},{"s":"O","x":0.0024,"y":0.123},{"s":"O","x":0.0084,"y":0.073},{"s":"O","x":0.0144,"y":0.054},{"s":"O","x":0.0224,"y":0.048},{"s":"O","x":0.0323,"y":0.035},{"s":"O","x":0.0443,"y":0.023},{"s":"O","x":0.0563,"y":0.016},{"s":"O","x":0.0683,"y":0.01},{"s":"O","x":0.0802,"y":0.016},{"s":"O","x":0.0922,"y":0.01},{"s":"O","x":0.104,"y":0.016},{"s":"O","x":0.116,"y":0.01},{"s":"O","x":0.128,"y":0.016},{"s":"O","x":0.14,"y":0.008},{"s":"O","x":0.152,"y":0.004},{"s":"O","x":0.159,"y":0.006},
  {"s":"T","x":-0.159,"y":0.01},{"s":"T","x":-0.151,"y":0.004},{"s":"T","x":-0.135,"y":0},{"s":"T","x":-0.119,"y":0.004},{"s":"T","x":-0.107,"y":0.016},{"s":"T","x":-0.099,"y":0.01},{"s":"T","x":-0.091,"y":0.016},{"s":"T","x":-0.079,"y":0.008},{"s":"T","x":-0.067,"y":0.004},{"s":"T","x":-0.051,"y":0.01},{"s":"T","x":-0.039,"y":0.023},{"s":"T","x":-0.027,"y":0.041},{"s":"T","x":-0.0195,"y":0.054},{"s":"T","x":-0.0116,"y":0.073},{"s":"T","x":-0.0056,"y":0.098},{"s":"T","x":0.0004,"y":0.123},{"s":"T","x":0.0064,"y":0.16},{"s":"T","x":0.0124,"y":0.21},{"s":"T","x":0.0184,"y":0.273},{"s":"T","x":0.0236,"y":0.348},{"s":"T","x":0.0263,"y":0.38},{"s":"T","x":0.0303,"y":0.373},{"s":"T","x":0.0355,"y":0.41},{"s":"T","x":0.0403,"y":0.46},{"s":"T","x":0.0463,"y":0.536},{"s":"T","x":0.0515,"y":0.6},{"s":"T","x":0.0555,"y":0.655},{"s":"T","x":0.0583,"y":0.6},{"s":"T","x":0.0623,"y":0.524},{"s":"T","x":0.0683,"y":0.449},{"s":"T","x":0.0742,"y":0.373},{"s":"T","x":0.0802,"y":0.311},{"s":"T","x":0.0862,"y":0.248},{"s":"T","x":0.0922,"y":0.185},{"s":"T","x":0.0982,"y":0.135},{"s":"T","x":0.104,"y":0.098},{"s":"T","x":0.11,"y":0.073},{"s":"T","x":0.116,"y":0.06},{"s":"T","x":0.124,"y":0.048},{"s":"T","x":0.132,"y":0.035},{"s":"T","x":0.14,"y":0.023},{"s":"T","x":0.148,"y":0.016},{"s":"T","x":0.154,"y":0.01},{"s":"T","x":0.159,"y":0.016},
  {"s":"AL","x":-0.124,"y":0.323},{"s":"AL","x":-0.0941,"y":0.335},{"s":"AL","x":-0.0725,"y":0.38},{"s":"AL","x":-0.0605,"y":0.455},{"s":"AL","x":-0.0545,"y":0.568},{"s":"AL","x":-0.0521,"y":0.662},
  {"s":"AT","x":0.1216,"y":0.914},{"s":"AT","x":0.1097,"y":0.944},{"s":"AT","x":0.0977,"y":0.955},{"s":"AT","x":0.0857,"y":0.94},{"s":"AT","x":0.0749,"y":0.906},
  {"s":"AR","x":0.142,"y":0.342},{"s":"AR","x":0.1157,"y":0.338},{"s":"AR","x":0.0917,"y":0.353},{"s":"AR","x":0.0737,"y":0.376},{"s":"AR","x":0.0581,"y":0.398}
 ],
 "h":[
  {"n":"Δn > 0","x":-0.16,"y":0},{"n":"Δn > 0","x":-0.13,"y":0.003},{"n":"Δn > 0","x":-0.11,"y":0.008},{"n":"Δn > 0","x":-0.1,"y":0.014},{"n":"Δn > 0","x":-0.09,"y":0.025},{"n":"Δn > 0","x":-0.08,"y":0.043},{"n":"Δn > 0","x":-0.07,"y":0.068},{"n":"Δn > 0","x":-0.06,"y":0.105},{"n":"Δn > 0","x":-0.05,"y":0.16},{"n":"Δn > 0","x":-0.04,"y":0.225},{"n":"Δn > 0","x":-0.03,"y":0.295},{"n":"Δn > 0","x":-0.02,"y":0.36},{"n":"Δn > 0","x":-0.01,"y":0.41},{"n":"Δn > 0","x":0,"y":0.43},{"n":"Δn > 0","x":0.01,"y":0.42},{"n":"Δn > 0","x":0.02,"y":0.385},{"n":"Δn > 0","x":0.03,"y":0.325},{"n":"Δn > 0","x":0.04,"y":0.255},{"n":"Δn > 0","x":0.05,"y":0.185},{"n":"Δn > 0","x":0.06,"y":0.125},{"n":"Δn > 0","x":0.07,"y":0.08},{"n":"Δn > 0","x":0.08,"y":0.047},{"n":"Δn > 0","x":0.09,"y":0.027},{"n":"Δn > 0","x":0.1,"y":0.015},{"n":"Δn > 0","x":0.11,"y":0.008},{"n":"Δn > 0","x":0.12,"y":0.004},{"n":"Δn > 0","x":0.14,"y":0.001},{"n":"Δn > 0","x":0.16,"y":0},
  {"n":"Δn = 0","x":-0.16,"y":0},{"n":"Δn = 0","x":-0.12,"y":0.003},{"n":"Δn = 0","x":-0.1,"y":0.01},{"n":"Δn = 0","x":-0.09,"y":0.016},{"n":"Δn = 0","x":-0.08,"y":0.028},{"n":"Δn = 0","x":-0.07,"y":0.045},{"n":"Δn = 0","x":-0.06,"y":0.068},{"n":"Δn = 0","x":-0.05,"y":0.1},{"n":"Δn = 0","x":-0.04,"y":0.14},{"n":"Δn = 0","x":-0.03,"y":0.195},{"n":"Δn = 0","x":-0.02,"y":0.26},{"n":"Δn = 0","x":-0.01,"y":0.33},{"n":"Δn = 0","x":0,"y":0.4},{"n":"Δn = 0","x":0.01,"y":0.46},{"n":"Δn = 0","x":0.02,"y":0.49},{"n":"Δn = 0","x":0.029,"y":0.5},{"n":"Δn = 0","x":0.04,"y":0.48},{"n":"Δn = 0","x":0.05,"y":0.42},{"n":"Δn = 0","x":0.06,"y":0.345},{"n":"Δn = 0","x":0.07,"y":0.26},{"n":"Δn = 0","x":0.08,"y":0.18},{"n":"Δn = 0","x":0.09,"y":0.115},{"n":"Δn = 0","x":0.1,"y":0.065},{"n":"Δn = 0","x":0.11,"y":0.035},{"n":"Δn = 0","x":0.12,"y":0.016},{"n":"Δn = 0","x":0.13,"y":0.007},{"n":"Δn = 0","x":0.14,"y":0.003},{"n":"Δn = 0","x":0.16,"y":0},
  {"n":"Δn < 0","x":-0.16,"y":0},{"n":"Δn < 0","x":-0.12,"y":0.002},{"n":"Δn < 0","x":-0.1,"y":0.006},{"n":"Δn < 0","x":-0.09,"y":0.009},{"n":"Δn < 0","x":-0.08,"y":0.015},{"n":"Δn < 0","x":-0.07,"y":0.025},{"n":"Δn < 0","x":-0.06,"y":0.038},{"n":"Δn < 0","x":-0.05,"y":0.055},{"n":"Δn < 0","x":-0.04,"y":0.08},{"n":"Δn < 0","x":-0.03,"y":0.11},{"n":"Δn < 0","x":-0.02,"y":0.148},{"n":"Δn < 0","x":-0.01,"y":0.192},{"n":"Δn < 0","x":0,"y":0.245},{"n":"Δn < 0","x":0.01,"y":0.31},{"n":"Δn < 0","x":0.02,"y":0.39},{"n":"Δn < 0","x":0.03,"y":0.48},{"n":"Δn < 0","x":0.04,"y":0.585},{"n":"Δn < 0","x":0.05,"y":0.665},{"n":"Δn < 0","x":0.06,"y":0.715},{"n":"Δn < 0","x":0.071,"y":0.734},{"n":"Δn < 0","x":0.08,"y":0.72},{"n":"Δn < 0","x":0.09,"y":0.675},{"n":"Δn < 0","x":0.1,"y":0.6},{"n":"Δn < 0","x":0.11,"y":0.505},{"n":"Δn < 0","x":0.12,"y":0.385},{"n":"Δn < 0","x":0.13,"y":0.275},{"n":"Δn < 0","x":0.14,"y":0.175},{"n":"Δn < 0","x":0.15,"y":0.09},{"n":"Δn < 0","x":0.16,"y":0.02}
 ]
},
"columns":4,
"spacing":{"row":82,"column":57},
"bounds":"flush",
"resolve":{"scale":{"color":"independent"},"legend":{"color":"independent"}},
"concat":[
  {"width":267,"height":266,"title":"Theory: Standard DFB","resolve":{"scale":{"y":"independent"}},
   "layer":[
    {"data":{"name":"a"},"layer":[
      {"transform":[{"filter":"datum.s == 'I'"}],"mark":{"type":"line","color":"black","strokeWidth":2.7,"clip":true},
       "encoding":{"x":{"field":"x","type":"quantitative","scale":{"domain":[-40,40],"nice":false,"zero":false},"axis":{"values":[-40,-30,-20,-10,0,10,20,30,40],"format":"d","title":"Position (μm)","labelOverlap":false,"labelFontSize":15}},
        "y":{"field":"y","type":"quantitative","scale":{"domain":[0,1],"nice":false,"zero":false},"axis":{"orient":"left","values":[0,0.25,0.5,0.75,1],"format":".2f","title":"Intensity"}},"order":{"value":null}}},
      {"data":{"values":[{}]},"mark":{"type":"text","text":"a","font":"Lato","fontWeight":"bold","fontSize":28,"align":"center","baseline":"alphabetic"},
       "encoding":{"x":{"datum":-56.8,"type":"quantitative","scale":{"domain":[-40,40],"nice":false,"zero":false},"axis":{"values":[-40,-30,-20,-10,0,10,20,30,40],"format":"d","title":"Position (μm)","labelOverlap":false,"labelFontSize":15}},"y":{"datum":0.917}}}
    ]},
    {"data":{"name":"a"},"layer":[
      {"transform":[{"filter":"datum.s == 'P'"}],"mark":{"type":"line","color":"black","strokeWidth":2.7,"strokeDash":[10,6]},
       "encoding":{"x":{"field":"x","type":"quantitative","scale":{"domain":[-40,40],"nice":false,"zero":false},"axis":{"values":[-40,-30,-20,-10,0,10,20,30,40],"format":"d","title":"Position (μm)","labelOverlap":false,"labelFontSize":15}},"y":{"field":"y","type":"quantitative","scale":{"domain":[0,8],"nice":false,"zero":false},"axis":{"orient":"right","values":[0,2,4,6,8],"format":"d","title":"Phase (rad)"}},"order":{"value":null}}},
      {"transform":[{"filter":"datum.s == 'Q'"}],"mark":{"type":"line","color":"black","strokeWidth":1,"strokeDash":[6,3,1.5,3]},
       "encoding":{"x":{"field":"x","type":"quantitative","scale":{"domain":[-40,40],"nice":false,"zero":false},"axis":{"values":[-40,-30,-20,-10,0,10,20,30,40],"format":"d","title":"Position (μm)","labelOverlap":false,"labelFontSize":15}},"y":{"field":"y","type":"quantitative"},"order":{"value":null}}},
      {"data":{"values":[{}]},"mark":{"type":"rule","color":"black","strokeWidth":1},"encoding":{"x":{"datum":14.9,"type":"quantitative","scale":{"domain":[-40,40],"nice":false,"zero":false},"axis":{"values":[-40,-30,-20,-10,0,10,20,30,40],"format":"d","title":"Position (μm)","labelOverlap":false,"labelFontSize":15}},"y":{"datum":0.1},"y2":{"datum":2.95}}},
      {"data":{"values":[{}]},"mark":{"type":"point","shape":"M-0.5,1L0,0L0.5,1","size":256,"filled":false,"color":"black","strokeWidth":1.2,"opacity":1},"encoding":{"x":{"datum":14.9,"type":"quantitative","scale":{"domain":[-40,40],"nice":false,"zero":false},"axis":{"values":[-40,-30,-20,-10,0,10,20,30,40],"format":"d","title":"Position (μm)","labelOverlap":false,"labelFontSize":15}},"y":{"datum":2.95}}},
      {"data":{"values":[{}]},"mark":{"type":"text","text":"π","font":"DejaVu Sans","fontSize":18},"encoding":{"x":{"datum":17.8,"type":"quantitative","scale":{"domain":[-40,40],"nice":false,"zero":false},"axis":{"values":[-40,-30,-20,-10,0,10,20,30,40],"format":"d","title":"Position (μm)","labelOverlap":false,"labelFontSize":15}},"y":{"datum":1.71}}}
    ]}
   ]},
  {"width":267,"height":266,"title":"Theory: Extended","resolve":{"scale":{"y":"independent"}},
   "layer":[
    {"data":{"name":"b"},"layer":[
      {"transform":[{"filter":"datum.s == 'I'"}],"mark":{"type":"line","color":"black","strokeWidth":2.7,"clip":true},
       "encoding":{"x":{"field":"x","type":"quantitative","scale":{"domain":[-40,40],"nice":false,"zero":false},"axis":{"values":[-40,-30,-20,-10,0,10,20,30,40],"format":"d","title":"Position (μm)","labelOverlap":false,"labelFontSize":15}},
        "y":{"field":"y","type":"quantitative","scale":{"domain":[0,1],"nice":false,"zero":false},"axis":{"orient":"left","values":[0,0.25,0.5,0.75,1],"labels":false,"title":null}},"order":{"value":null}}},
      {"data":{"values":[{}]},"mark":{"type":"text","text":"b","font":"Lato","fontWeight":"bold","fontSize":28,"align":"center","baseline":"alphabetic"},"encoding":{"x":{"datum":-44.5,"type":"quantitative","scale":{"domain":[-40,40],"nice":false,"zero":false},"axis":{"values":[-40,-30,-20,-10,0,10,20,30,40],"format":"d","title":"Position (μm)","labelOverlap":false,"labelFontSize":15}},"y":{"datum":0.917}}}
    ]},
    {"data":{"name":"b"},"layer":[
      {"transform":[{"filter":"datum.s == 'P'"}],"mark":{"type":"line","color":"black","strokeWidth":2.7,"strokeDash":[10,6],"clip":true},
       "encoding":{"x":{"field":"x","type":"quantitative","scale":{"domain":[-40,40],"nice":false,"zero":false},"axis":{"values":[-40,-30,-20,-10,0,10,20,30,40],"format":"d","title":"Position (μm)","labelOverlap":false,"labelFontSize":15}},"y":{"field":"y","type":"quantitative","scale":{"domain":[0,8],"nice":false,"zero":false},"axis":{"orient":"right","values":[0,2,4,6,8],"labels":false,"title":null}},"order":{"value":null}}},
      {"transform":[{"filter":"datum.s == 'Q'"}],"mark":{"type":"line","color":"black","strokeWidth":1,"strokeDash":[6,3,1.5,3],"clip":true},
       "encoding":{"x":{"field":"x","type":"quantitative","scale":{"domain":[-40,40],"nice":false,"zero":false},"axis":{"values":[-40,-30,-20,-10,0,10,20,30,40],"format":"d","title":"Position (μm)","labelOverlap":false,"labelFontSize":15}},"y":{"field":"y","type":"quantitative"},"order":{"value":null}}},
      {"data":{"values":[{}]},"mark":{"type":"rule","color":"black","strokeWidth":1},"encoding":{"x":{"datum":6.95,"type":"quantitative","scale":{"domain":[-40,40],"nice":false,"zero":false},"axis":{"values":[-40,-30,-20,-10,0,10,20,30,40],"format":"d","title":"Position (μm)","labelOverlap":false,"labelFontSize":15}},"y":{"datum":0.5},"y2":{"datum":3.2}}},
      {"data":{"values":[{}]},"mark":{"type":"point","shape":"M-0.5,1L0,0L0.5,1","size":256,"filled":false,"color":"black","strokeWidth":1.2,"opacity":1},"encoding":{"x":{"datum":6.95,"type":"quantitative","scale":{"domain":[-40,40],"nice":false,"zero":false},"axis":{"values":[-40,-30,-20,-10,0,10,20,30,40],"format":"d","title":"Position (μm)","labelOverlap":false,"labelFontSize":15}},"y":{"datum":3.2}}},
      {"data":{"values":[{}]},"mark":{"type":"text","text":"π","font":"DejaVu Sans","fontSize":18},"encoding":{"x":{"datum":10.2,"type":"quantitative","scale":{"domain":[-40,40],"nice":false,"zero":false},"axis":{"values":[-40,-30,-20,-10,0,10,20,30,40],"format":"d","title":"Position (μm)","labelOverlap":false,"labelFontSize":15}},"y":{"datum":1.97}}}
    ]}
   ]},
  {"width":267,"height":266,"title":"Experiment","resolve":{"scale":{"y":"independent"}},
   "layer":[
    {"data":{"name":"c_int"},"layer":[
      {"mark":{"type":"line","color":"black","strokeWidth":2.2,"clip":true},
       "encoding":{"x":{"field":"x","type":"quantitative","scale":{"domain":[-40,40],"nice":false,"zero":false},"axis":{"values":[-40,-30,-20,-10,0,10,20,30,40],"format":"d","title":"Position (μm)","labelOverlap":false,"labelFontSize":15}},
        "y":{"field":"y","type":"quantitative","scale":{"domain":[0,1],"nice":false,"zero":false},"axis":{"orient":"left","values":[0,0.25,0.5,0.75,1],"labels":false,"title":null}},"order":{"value":null}}},
      {"data":{"values":[{}]},"mark":{"type":"text","text":"c","font":"Lato","fontWeight":"bold","fontSize":28,"align":"center","baseline":"alphabetic"},"encoding":{"x":{"datum":-46.3,"type":"quantitative","scale":{"domain":[-40,40],"nice":false,"zero":false},"axis":{"values":[-40,-30,-20,-10,0,10,20,30,40],"format":"d","title":"Position (μm)","labelOverlap":false,"labelFontSize":15}},"y":{"datum":0.921}}}
    ]},
    {"data":{"name":"c_dot"},"layer":[
      {"mark":{"type":"point","filled":true,"color":"black","size":42,"opacity":1},
       "encoding":{"x":{"field":"x","type":"quantitative","scale":{"domain":[-40,40],"nice":false,"zero":false},"axis":{"values":[-40,-30,-20,-10,0,10,20,30,40],"format":"d","title":"Position (μm)","labelOverlap":false,"labelFontSize":15}},"y":{"field":"y","type":"quantitative","scale":{"domain":[0,8],"nice":false,"zero":false},"axis":{"orient":"right","values":[0,2,4,6,8],"labels":false,"title":null}}}}
    ]}
   ]},
  {"width":267,"height":266,"title":"Theory: Effect of index  profile","resolve":{"scale":{"y":"independent"}},
   "layer":[
    {"data":{"name":"d"},"layer":[
      {"transform":[{"filter":"datum.s == 'I'"}],"mark":{"type":"line","strokeWidth":2.7,"clip":true},
       "encoding":{"x":{"field":"x","type":"quantitative","scale":{"domain":[-40,40],"nice":false,"zero":false},"axis":{"values":[-40,-30,-20,-10,0,10,20,30,40],"format":"d","title":"Position (μm)","labelOverlap":false,"labelFontSize":15}},
        "y":{"field":"y","type":"quantitative","scale":{"domain":[0,1],"nice":false,"zero":false},"axis":{"orient":"left","values":[0,0.25,0.5,0.75,1],"labels":false,"title":null}},
        "color":{"field":"n","type":"nominal","scale":{"domain":["Δn = 0","Δn > 0","Δn < 0"],"range":["#000000","#e2230f","#3a5bdc"]},
         "legend":{"title":null,"orient":"none","legendX":14,"legendY":6,"symbolType":"stroke","symbolStrokeWidth":3,"symbolSize":484,"clipHeight":19,"labelFont":"DejaVu Sans","labelFontSize":13,"labelColor":"black","strokeColor":"black","fillColor":"white","padding":6,"cornerRadius":3,"rowPadding":1,"labelOffset":6}}}},
      {"data":{"values":[{}]},"mark":{"type":"text","text":"d","font":"Lato","fontWeight":"bold","fontSize":28,"align":"center","baseline":"alphabetic"},"encoding":{"x":{"datum":-45.1,"type":"quantitative","scale":{"domain":[-40,40],"nice":false,"zero":false},"axis":{"values":[-40,-30,-20,-10,0,10,20,30,40],"format":"d","title":"Position (μm)","labelOverlap":false,"labelFontSize":15}},"y":{"datum":0.917}}}
    ]},
    {"data":{"name":"d"},"layer":[
      {"transform":[{"filter":"datum.s == 'P' && datum.n == 'Δn = 0'"}],"mark":{"type":"line","color":"black","strokeWidth":2.7,"strokeDash":[10,6],"clip":true},
       "encoding":{"x":{"field":"x","type":"quantitative","scale":{"domain":[-40,40],"nice":false,"zero":false},"axis":{"values":[-40,-30,-20,-10,0,10,20,30,40],"format":"d","title":"Position (μm)","labelOverlap":false,"labelFontSize":15}},"y":{"field":"y","type":"quantitative","scale":{"domain":[0,8],"nice":false,"zero":false},"axis":{"orient":"right","values":[0,2,4,6,8],"format":"d","title":"Phase (rad)"}},"order":{"value":null}}},
      {"transform":[{"filter":"datum.s == 'P' && datum.n == 'Δn > 0'"}],"mark":{"type":"line","color":"#e2230f","strokeWidth":2.7,"strokeDash":[10,6],"clip":true},
       "encoding":{"x":{"field":"x","type":"quantitative","scale":{"domain":[-40,40],"nice":false,"zero":false},"axis":{"values":[-40,-30,-20,-10,0,10,20,30,40],"format":"d","title":"Position (μm)","labelOverlap":false,"labelFontSize":15}},"y":{"field":"y","type":"quantitative"},"order":{"value":null}}},
      {"transform":[{"filter":"datum.s == 'P' && datum.n == 'Δn < 0'"}],"mark":{"type":"line","color":"#3a5bdc","strokeWidth":2.7,"strokeDash":[10,6],"clip":true},
       "encoding":{"x":{"field":"x","type":"quantitative","scale":{"domain":[-40,40],"nice":false,"zero":false},"axis":{"values":[-40,-30,-20,-10,0,10,20,30,40],"format":"d","title":"Position (μm)","labelOverlap":false,"labelFontSize":15}},"y":{"field":"y","type":"quantitative"},"order":{"value":null}}}
    ]}
   ]},
  {"width":267,"height":266,"data":{"name":"e"},
   "layer":[
    {"transform":[{"filter":"datum.s == 'T'"}],"mark":{"type":"line","color":"#19a9a9","strokeWidth":3,"interpolate":"monotone"},
     "encoding":{"x":{"field":"x","type":"quantitative","scale":{"domain":[-0.16,0.16],"nice":false,"zero":false},"axis":{"values":[-0.16,-0.08,0,0.08,0.16],"format":".2f","title":"Angle (rad)","labelOverlap":false}},
      "y":{"field":"y","type":"quantitative","scale":{"domain":[0,1],"nice":false,"zero":false},"axis":{"orient":"left","values":[0,0.25,0.5,0.75,1],"format":".2f","title":"Intensity"}}}},
    {"transform":[{"filter":"datum.s == 'O'"}],"mark":{"type":"line","color":"#ff4d1a","strokeWidth":3,"strokeDash":[16,4],"interpolate":"monotone"},"encoding":{"x":{"field":"x","type":"quantitative"},"y":{"field":"y","type":"quantitative"}}},
    {"transform":[{"filter":"datum.s == 'K'"}],"mark":{"type":"line","color":"black","strokeWidth":3,"strokeDash":[4,2.5],"interpolate":"monotone"},"encoding":{"x":{"field":"x","type":"quantitative"},"y":{"field":"y","type":"quantitative"}}},
    {"data":{"values":[{}]},"mark":{"type":"text","text":"e","font":"Lato","fontWeight":"bold","fontSize":28,"align":"center","baseline":"alphabetic"},"encoding":{"x":{"datum":-0.2259},"y":{"datum":0.937}}}
   ]},
  {"width":267,"height":266,"data":{"name":"f"},
   "layer":[
    {"transform":[{"filter":"datum.s == 'T'"}],"mark":{"type":"line","color":"#19a9a9","strokeWidth":3,"interpolate":"monotone"},
     "encoding":{"x":{"field":"x","type":"quantitative","scale":{"domain":[-0.16,0.16],"nice":false,"zero":false},"axis":{"values":[-0.16,-0.08,0,0.08,0.16],"format":".2f","title":"Angle (rad)","labelOverlap":false}},
      "y":{"field":"y","type":"quantitative","scale":{"domain":[0,1],"nice":false,"zero":false},"axis":{"orient":"left","values":[0,0.25,0.5,0.75,1],"labels":false,"title":null}}}},
    {"transform":[{"filter":"datum.s == 'O'"}],"mark":{"type":"line","color":"#ff4d1a","strokeWidth":3,"strokeDash":[16,4],"interpolate":"monotone"},"encoding":{"x":{"field":"x","type":"quantitative"},"y":{"field":"y","type":"quantitative"}}},
    {"transform":[{"filter":"datum.s == 'K'"}],"mark":{"type":"line","color":"black","strokeWidth":3,"strokeDash":[4,2.5],"interpolate":"monotone"},"encoding":{"x":{"field":"x","type":"quantitative"},"y":{"field":"y","type":"quantitative"}}},
    {"data":{"values":[{}]},"mark":{"type":"text","text":"f","font":"Lato","fontWeight":"bold","fontSize":28,"align":"center","baseline":"alphabetic"},"encoding":{"x":{"datum":-0.1816},"y":{"datum":0.906}}}
   ]},
  {"width":267,"height":266,"data":{"name":"g"},
   "layer":[
    {"transform":[{"filter":"datum.s == 'T'"}],"mark":{"type":"line","color":"#19a9a9","strokeWidth":2.7},
     "encoding":{"x":{"field":"x","type":"quantitative","scale":{"domain":[-0.16,0.16],"nice":false,"zero":false},"axis":{"values":[-0.16,-0.08,0,0.08,0.16],"format":".2f","title":"Angle (rad)","labelOverlap":false}},
      "y":{"field":"y","type":"quantitative","scale":{"domain":[0,1],"nice":false,"zero":false},"axis":{"orient":"left","values":[0,0.25,0.5,0.75,1],"labels":false,"title":null}}}},
    {"transform":[{"filter":"datum.s == 'O'"}],"mark":{"type":"line","color":"#ff4d1a","strokeWidth":2.7,"strokeDash":[16,4]},"encoding":{"x":{"field":"x","type":"quantitative"},"y":{"field":"y","type":"quantitative"}}},
    {"transform":[{"filter":"datum.s == 'K'"}],"mark":{"type":"line","color":"black","strokeWidth":2.7,"strokeDash":[4,2.5]},"encoding":{"x":{"field":"x","type":"quantitative"},"y":{"field":"y","type":"quantitative"}}},
    {"transform":[{"filter":"datum.s == 'AL' || datum.s == 'AT' || datum.s == 'AR'"}],"mark":{"type":"line","color":"#22398a","strokeWidth":1.8,"interpolate":"cardinal"},"encoding":{"x":{"field":"x","type":"quantitative"},"y":{"field":"y","type":"quantitative"},"detail":{"field":"s","type":"nominal"},"order":{"value":null}}},
    {"data":{"values":[{}]},"mark":{"type":"point","shape":"triangle-up","size":70,"filled":true,"color":"#22398a","opacity":1,"angle":0},"encoding":{"x":{"datum":-0.0521},"y":{"datum":0.675}}},
    {"data":{"values":[{}]},"mark":{"type":"point","shape":"triangle-up","size":70,"filled":true,"color":"#22398a","opacity":1,"angle":223},"encoding":{"x":{"datum":0.0705},"y":{"datum":0.89}}},
    {"data":{"values":[{}]},"mark":{"type":"point","shape":"triangle-up","size":70,"filled":true,"color":"#22398a","opacity":1,"angle":300},"encoding":{"x":{"datum":0.0525},"y":{"datum":0.411}}},
    {"data":{"values":[{}]},"mark":{"type":"rect","fill":"#8a94c2","opacity":0.9},"encoding":{"x":{"datum":-0.154},"x2":{"datum":-0.1324},"y":{"datum":0.398},"y2":{"datum":0.256}}},
    {"data":{"values":[{}]},"mark":{"type":"rect","fill":"#8a94c2","opacity":0.9},"encoding":{"x":{"datum":0.1492},"x2":{"datum":0.172},"y":{"datum":0.421},"y2":{"datum":0.274}}},
    {"data":{"values":[{}]},"mark":{"type":"rect","fill":"white","fillOpacity":0,"stroke":"#22398a","strokeWidth":3},"encoding":{"x":{"datum":-0.178},"x2":{"datum":-0.1324},"y":{"datum":0.398},"y2":{"datum":0.256}}},
    {"data":{"values":[{}]},"mark":{"type":"rect","fill":"white","fillOpacity":0,"stroke":"#22398a","strokeWidth":3},"encoding":{"x":{"datum":0.130},"x2":{"datum":0.1768},"y":{"datum":0.947},"y2":{"datum":0.805}}},
    {"data":{"values":[{}]},"mark":{"type":"rect","fill":"white","fillOpacity":0,"stroke":"#22398a","strokeWidth":3},"encoding":{"x":{"datum":0.1492},"x2":{"datum":0.1959},"y":{"datum":0.421},"y2":{"datum":0.274}}},
    {"data":{"values":[{}]},"mark":{"type":"rule","color":"#22398a","strokeWidth":3},"encoding":{"x":{"datum":-0.154},"y":{"datum":0.398},"y2":{"datum":0.256}}},
    {"data":{"values":[{}]},"mark":{"type":"rule","color":"#22398a","strokeWidth":3},"encoding":{"x":{"datum":0.172},"y":{"datum":0.421},"y2":{"datum":0.274}}},
    {"data":{"values":[{}]},"mark":{"type":"rect","fill":"white","fillOpacity":0,"stroke":"#8c8c8c","strokeWidth":3,"strokeDash":[9,5],"cornerRadius":4},"encoding":{"x":{"datum":-0.1924},"x2":{"datum":0.19},"y":{"datum":2.455},"y2":{"datum":-0.3}}},
    {"data":{"values":[{}]},"mark":{"type":"text","text":"g","font":"Lato","fontWeight":"bold","fontSize":28,"align":"center","baseline":"alphabetic"},"encoding":{"x":{"datum":-0.1828},"y":{"datum":0.913}}}
   ]},
  {"width":267,"height":266,"data":{"name":"h"},
   "layer":[
    {"data":{"values":[{}]},"mark":{"type":"rule","color":"#888888","strokeWidth":1.5,"strokeDash":[3,3]},"encoding":{"x":{"datum":0}}},
    {"mark":{"type":"line","strokeWidth":2.7,"interpolate":"monotone"},
     "encoding":{"x":{"field":"x","type":"quantitative","scale":{"domain":[-0.16,0.16],"nice":false,"zero":false},"axis":{"values":[-0.16,-0.08,0,0.08,0.16],"format":".2f","title":"Angle (rad)","labelOverlap":false}},
      "y":{"field":"y","type":"quantitative","scale":{"domain":[0,1],"nice":false,"zero":false},"axis":{"orient":"left","values":[0,0.25,0.5,0.75,1],"labels":false,"title":null}},
      "color":{"field":"n","type":"nominal","scale":{"domain":["Δn = 0","Δn > 0","Δn < 0"],"range":["#000000","#e2230f","#3a5bdc"]},
       "legend":{"title":null,"orient":"none","legendX":14,"legendY":8,"symbolType":"stroke","symbolStrokeWidth":3,"symbolSize":484,"clipHeight":19,"labelFont":"DejaVu Sans","labelFontSize":13,"labelColor":"black","strokeColor":"black","fillColor":"white","padding":6,"cornerRadius":3,"rowPadding":1,"labelOffset":6}}}},
    {"data":{"values":[{}]},"mark":{"type":"rule","color":"black","strokeWidth":1.5},"encoding":{"x":{"datum":0.038},"y":{"datum":0.94},"y2":{"datum":0.72}}},
    {"data":{"values":[{}]},"mark":{"type":"point","shape":"M-0.5,-1L0,0L0.5,-1","size":400,"filled":false,"color":"black","strokeWidth":1.5,"opacity":1},"encoding":{"x":{"datum":0.038},"y":{"datum":0.72}}},
    {"data":{"values":[{}]},"mark":{"type":"rule","color":"#e2230f","strokeWidth":1.5},"encoding":{"x":{"datum":0.0348},"y":{"datum":0.94},"y2":{"datum":0.72}}},
    {"data":{"values":[{}]},"mark":{"type":"point","shape":"M-0.5,-1L0,0L0.5,-1","size":400,"filled":false,"color":"#e2230f","strokeWidth":1.5,"opacity":1},"encoding":{"x":{"datum":0.0348},"y":{"datum":0.72}}},
    {"data":{"values":[{}]},"mark":{"type":"rule","color":"#3a5bdc","strokeWidth":1.5},"encoding":{"x":{"datum":0.058},"y":{"datum":0.94},"y2":{"datum":0.724}}},
    {"data":{"values":[{}]},"mark":{"type":"point","shape":"M-0.5,-1L0,0L0.5,-1","size":400,"filled":false,"color":"#3a5bdc","strokeWidth":1.5,"opacity":1},"encoding":{"x":{"datum":0.058},"y":{"datum":0.724}}},
    {"data":{"values":[{}]},"mark":{"type":"text","text":"h","font":"Lato","fontWeight":"bold","fontSize":28,"align":"center","baseline":"alphabetic"},"encoding":{"x":{"datum":-0.181},"y":{"datum":0.895}}}
   ]}
]
}
